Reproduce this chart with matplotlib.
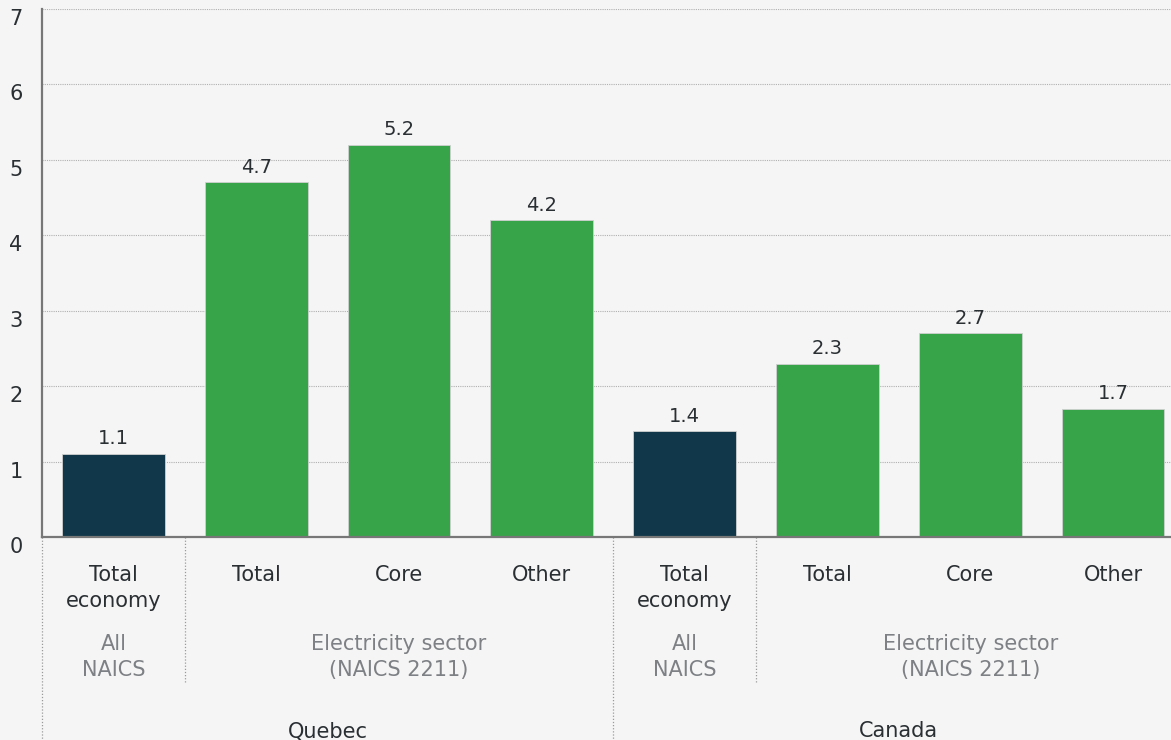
import matplotlib.pyplot as plt

plt.rcParams['font.family'] = ['DejaVu Sans']

categories = ["Total\neconomy", "Total", "Core", "Other",
              "Total\neconomy", "Total", "Core", "Other"]
values = [1.1, 4.7, 5.2, 4.2, 1.4, 2.3, 2.7, 1.7]
is_total = [True, False, False, False, True, False, False, False]
sub_labels = [(0, 0, "All\nNAICS"), (1, 3, "Electricity sector\n(NAICS 2211)"),
              (4, 4, "All\nNAICS"), (5, 7, "Electricity sector\n(NAICS 2211)")]
groups = [(0, 3, "Quebec"), (4, 7, "Canada")]
yticks = [0, 1, 2, 3, 4, 5, 6, 7]

navy = "#10374a"
green = "#38a449"
bg = "#f5f5f5"
text_dark = "#2a2f33"
text_grey = "#7d8084"
sep_col = "#9a9a9a"

fig = plt.figure(figsize=(11.71, 7.40), dpi=100, facecolor=bg)
ax = fig.add_axes([42 / 1171, 203 / 740, 1142.4 / 1171, 528 / 740])
ax.set_facecolor(bg)

x = list(range(len(values)))
colors = [navy if t else green for t in is_total]
bars = ax.bar(x, values, width=0.72, color=colors, edgecolor="#d0d0d0", linewidth=0.6, zorder=3)
ax.bar_label(bars, labels=[f"{v:.1f}" for v in values], padding=4, fontsize=14, color=text_dark)

ax.set_xlim(-0.5, len(values) - 0.5)
ax.set_ylim(0, 7)
ax.set_yticks(yticks)
ax.set_yticklabels([str(t) for t in yticks], fontsize=15, color=text_dark)
for lab in ax.get_yticklabels():
    lab.set_verticalalignment("top")
ax.tick_params(axis="y", length=0, pad=14)
ax.set_xticks([])
ax.yaxis.grid(True, linestyle=(0, (1, 1)), color="#b0b0b0", linewidth=0.8, zorder=0)

for side in ["top", "right"]:
    ax.spines[side].set_visible(False)
for side in ["left", "bottom"]:
    ax.spines[side].set_color("#777777")
    ax.spines[side].set_linewidth(1.6)
ax.spines["bottom"].set_zorder(4)

unit = 528 / 7  # pixels per data unit
def py(pixel_y):
    return (537 - pixel_y) / unit

# category labels
for xi, cat in zip(x, categories):
    ax.text(xi, py(565), cat, ha="center", va="top", fontsize=15, color=text_dark,
            linespacing=1.4, clip_on=False)

# sub labels
for a, b, lab in sub_labels:
    ax.text((a + b) / 2, py(634), lab, ha="center", va="top", fontsize=15, color=text_grey,
            linespacing=1.4, clip_on=False)

# group labels
for a, b, lab in groups:
    ax.text((a + b) / 2, py(721), lab, ha="center", va="top", fontsize=15, color=text_dark,
            clip_on=False)

# separators
sep_style = dict(color=sep_col, linestyle=(0, (1, 1.5)), linewidth=0.9, clip_on=False)
for a, b, lab in groups:
    ax.plot([a - 0.5, a - 0.5], [0, py(745)], **sep_style)
for a, b, lab in sub_labels:
    if a != b:
        ax.plot([a - 0.5, a - 0.5], [0, py(682)], **sep_style)

fig.savefig("out.png", dpi=100, facecolor=bg)
